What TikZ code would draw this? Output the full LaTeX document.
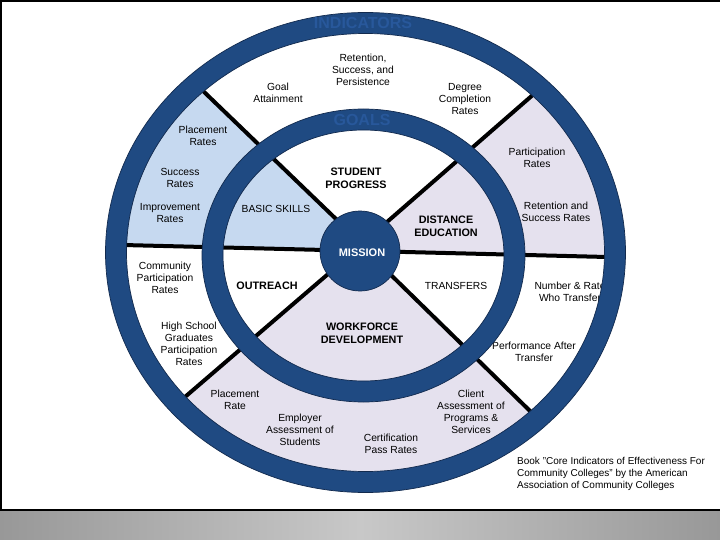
\documentclass[tikz,border=0pt]{standalone}
\usepackage{fontspec}
\setmainfont{Liberation Sans}
\definecolor{ringblue}{RGB}{31,74,130}
\definecolor{ringdark}{RGB}{18,42,78}
\definecolor{ringtext}{RGB}{40,88,155}
\definecolor{lightblue}{RGB}{198,217,240}
\definecolor{lavender}{RGB}{229,225,238}
\definecolor{banddark}{RGB}{152,152,152}
\definecolor{bandlight}{RGB}{200,200,200}
\begin{document}
\begin{tikzpicture}[x=1pt,y=-1pt,
  lbl/.style={font=\fontsize{10.3}{12}\selectfont, align=center, inner sep=0pt, text=black},
  capslbl/.style={font=\fontsize{10.8}{13}\selectfont\bfseries, align=center, inner sep=0pt, text=black},
  ringlbl/.style={font=\fontsize{16}{18}\selectfont\bfseries, inner sep=0pt, text=ringtext},
  divline/.style={draw=black, line width=4pt},
  ringline/.style={draw=ringblue, line width=21pt},
  ringedge/.style={draw=ringdark, line width=0.7pt}]
\useasboundingbox (0,0) rectangle (720,540);
% page frame and band
\fill[white] (0,0) rectangle (720,510);
\shade[left color=banddark, right color=banddark, middle color=bandlight] (0,510) rectangle (720,540);
\draw[black, line width=1.5pt] (0,510) -- (720,510);
\draw[black, line width=2pt] (1,510) -- (1,1) -- (720,1);
% sectors
\begin{scope}
  \clip (365.5,252.5) ellipse [x radius=255pt, y radius=235pt];
  \fill[lightblue] (-10,241.7) -- (360,250.9) -- (360,242.1) -- (67,-40) -- (-10,-40) -- cycle;
  \fill[lavender] (360,245.5) -- (757,-100.5) -- (760,-100.5) -- (760,260.7) -- (360,250.9) -- cycle;
  \fill[lavender] (360,246.6) -- (-28,580) -- (-28,640) -- (741,640) -- (740.5,617) -- (360,244.7) -- cycle;
\end{scope}
% dividing lines
\coordinate (hl) at (115,244.8);
\coordinate (hr) at (615,257.2);
\coordinate (ul0) at (360,242.1);
\coordinate (ul1) at (195,83.2);
\coordinate (ur0) at (360,245.5);
\coordinate (ur1) at (541,87.8);
\coordinate (ll0) at (360,246.6);
\coordinate (ll1) at (179,402.1);
\coordinate (lr0) at (360,244.7);
\coordinate (lr1) at (538,418.8);
\draw[divline] (hl) -- (hr);
\draw[divline] (ul0) -- (ul1);
\draw[divline] (ur0) -- (ur1);
\draw[divline] (ll0) -- (ll1);
\draw[divline] (lr0) -- (lr1);
% labels
\node[lbl] (ret) at (363,70) {Retention,\\Success, and\\Persistence};
\node[lbl] (goal) at (278,93) {Goal\\Attainment};
\node[lbl] (deg) at (465,99.5) {Degree\\Completion\\Rates};
\node[lbl] (plc) at (203,136) {Placement\\Rates};
\node[lbl] (suc) at (180,177.5) {Success\\Rates};
\node[lbl] (imp) at (170,213.5) {Improvement\\Rates};
\node[lbl] (basic) at (276,209) {BASIC SKILLS};
\node[capslbl] (sp) at (356,178.5) {STUDENT\\PROGRESS};
\node[lbl] (par) at (537,157.5) {Participation\\Rates};
\node[lbl] (rsr) at (556,211.5) {Retention and\\Success Rates};
\node[capslbl] (dist) at (446,226.5) {DISTANCE\\EDUCATION};
\node[lbl] (comm) at (165,278) {Community\\Participation\\Rates};
\node[capslbl] (out) at (267,286) {OUTREACH};
\node[lbl] (hs) at (189,343.5) {High School\\Graduates\\Participation\\Rates};
\node[lbl] (pr) at (235,400) {Placement\\Rate};
\node[lbl] (emp) at (300,430) {Employer\\Assessment of\\Students};
\node[lbl] (cert) at (391,444) {Certification\\Pass Rates};
\node[capslbl] (wf) at (362,333.5) {WORKFORCE\\DEVELOPMENT};
\node[lbl] (tr) at (456,286) {TRANSFERS};
\node[lbl] (num) at (570,291.5) {Number \& Rate\\Who Transfer};
\node[lbl] (perf) at (534,351.5) {Performance After\\Transfer};
\node[lbl] (cli) at (471,411.5) {Client\\Assessment of\\Programs \&\\Services};
\node[lbl, align=left, anchor=west, font=\fontsize{10}{12}\selectfont] (book) at (517,474) {Book "Core Indicators of Effectiveness For\\Community Colleges" by the American\\Association of Community Colleges};
% rings
\draw[ringline] (365.5,252.5) ellipse [x radius=249.5pt, y radius=229.5pt];
\draw[ringedge] (365.5,252.5) ellipse [x radius=260pt, y radius=240pt];
\draw[ringedge] (365.5,252.5) ellipse [x radius=239pt, y radius=219pt];
\draw[ringline] (363.5,255.5) ellipse [x radius=151pt, y radius=136pt];
\draw[ringedge] (363.5,255.5) ellipse [x radius=161.5pt, y radius=146.5pt];
\draw[ringedge] (363.5,255.5) ellipse [x radius=140.5pt, y radius=125.5pt];
\node[circle, fill=ringblue, draw=ringdark, line width=0.7pt, minimum size=80pt, inner sep=0pt] (missioncircle) at (360,251) {};
\node[font=\fontsize{11}{13}\selectfont\bfseries, text=white, inner sep=0pt] (mission) at (362,253) {MISSION};
\node[ringlbl] (ind) at (363,22.5) {INDICATORS};
\node[ringlbl] (goals) at (362,120) {GOALS};
\end{tikzpicture}
\end{document}
